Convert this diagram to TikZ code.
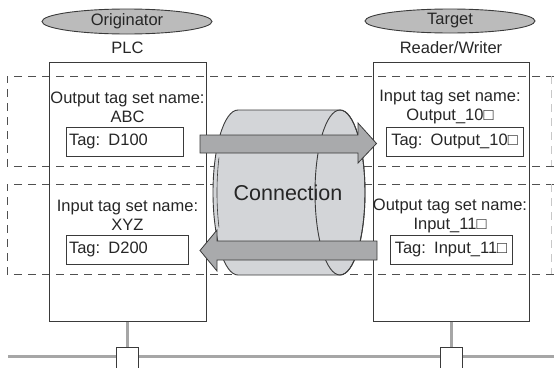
\documentclass[tikz,border=0pt]{standalone}
\usepackage{fontspec}
\setmainfont{Liberation Sans}
\usetikzlibrary{shapes.geometric}
\definecolor{ink}{HTML}{3A3A3A}
\definecolor{txt}{HTML}{262626}
\definecolor{ovalgray}{HTML}{BBBBBB}
\definecolor{cylgray}{HTML}{D3D5D8}
\definecolor{arrgray}{HTML}{A9AAAC}
\definecolor{busgray}{HTML}{A6A6A6}
\definecolor{dashgray}{HTML}{505050}
\definecolor{faintgray}{HTML}{C8C8C8}
\tikzset{
  every node/.style={text=txt, font=\fontsize{16.5}{19}\selectfont, inner sep=0pt},
  oval/.style={ellipse, draw=ink, line width=0.9pt, fill=ovalgray},
  devbox/.style={draw=ink, line width=1pt, rectangle, minimum height=259},
  tagbox/.style={draw=ink, line width=1pt, rectangle, minimum height=29, inner xsep=3pt},
  lbl/.style={align=center},
  zone/.style={draw=dashgray, line width=0.9pt, dash pattern=on 8pt off 6pt},
  faintzone/.style={draw=faintgray, line width=0.9pt, dash pattern=on 8pt off 6pt},
  bus/.style={draw=busgray, line width=3pt},
  port/.style={draw=ink, line width=0.9pt, fill=white, minimum size=22, rectangle},
  cyl/.style={fill=cylgray, draw=ink, line width=0.9pt},
  flow/.style={fill=arrgray, draw=ink, line width=0.8pt, line join=miter},
}
\begin{document}
\begin{tikzpicture}[x=1pt, y=-1pt]
\useasboundingbox (0,0) rectangle (554,367);
% dashed zones (open to the right, faint right edge)
\draw[zone] (554,76) -- (7,76) -- (7,166) -- (554,166);
\draw[zone] (554,184) -- (7,184) -- (7,274) -- (554,274);
\draw[faintzone] (551,76) -- (551,166);
\draw[faintzone] (551,184) -- (551,274);
% device boxes
\node[devbox, minimum width=157] (plc) at (127.5,191.5) {};
\node[devbox, minimum width=156] (rw) at (451,191.5) {};
% headers
\node[oval, minimum width=170, minimum height=25] (orig) at (127,21.5) {Originator};
\node[oval, minimum width=170, minimum height=24] (targ) at (450,21) {Target};
\node (plclbl) at (127.5,48) {PLC};
\node (rwlbl) at (451,48) {Reader/Writer};
% tag set labels
\node[lbl] (outA) at (127.5,107.5) {Output tag set name:\\ABC};
\node[lbl] (inB) at (127.5,215.5) {Input tag set name:\\XYZ};
\node[lbl] (inC) at (450,107.5) {Input tag set name:\\Output\_10□};
\node[lbl] (outD) at (450,215.5) {Output tag set name:\\Input\_11□};
% tag boxes
\node[tagbox, text width=111, align=left] (tagA) at (124.5,141.5) {Tag: D100};
\node[tagbox, text width=116, align=left] (tagB) at (127,249.5) {Tag: D200};
\node[tagbox, text width=131, align=center] (tagC) at (454.5,141.5) {Tag: Output\_10□};
\node[tagbox, text width=116, align=center] (tagD) at (451,249.5) {Tag: Input\_11□};
% connection cylinder
\coordinate (cylL) at (238,192.5);
\coordinate (cylR) at (340,192.5);
\path[cyl] (238,110) -- (340,110)
  arc[start angle=-90, end angle=90, x radius=25, y radius=82.5]
  -- (238,275)
  arc[start angle=90, end angle=270, x radius=25, y radius=82.5] -- cycle;
\draw[ink, line width=0.9pt] (cylR) ellipse[x radius=25, y radius=82.5];
\draw[ink, line width=0.6pt] (238,192.5) ++(155:21 and 82.5) arc[start angle=155, end angle=205, x radius=21, y radius=82.5];
\node[font=\fontsize{21.5}{24}\selectfont] (conn) at (288,193) {Connection};
% flow arrows
\path[flow] (200,135) -- (358,135) -- (358,123) -- (376.5,143.5) -- (358,163)
  -- (358,153) -- (200,153) -- cycle;
\path[flow] (377,241) -- (217,241) -- (217,230) -- (200,250.5) -- (217,271)
  -- (217,260) -- (377,260) -- cycle;
% network
\coordinate (busL) at (8,356);
\coordinate (busR) at (554,356);
\draw[bus] (busL) -- (busR);
\node[port] (sqA) at (127.5,358) {};
\node[port] (sqB) at (451,358) {};
\draw[bus] (plc.south) -- (sqA.north);
\draw[bus] (rw.south) -- (sqB.north);
\end{tikzpicture}
\end{document}
